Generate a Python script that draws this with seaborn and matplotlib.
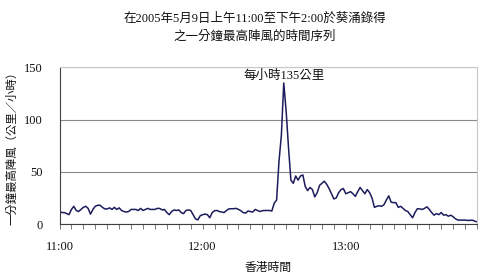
import matplotlib
matplotlib.use("Agg")
import matplotlib.pyplot as plt
import seaborn as sns
import pandas as pd
import numpy as np
from matplotlib.ticker import FixedLocator, MultipleLocator

# ---- data (one-minute peak gust, km/h, from 11:00) ----
minutes = list(range(0, 176))
gust = [
    12, 11, 11, 10, 9, 14, 17, 13, 12, 14,
    16, 17, 15, 9.5, 14, 17, 18, 18, 16, 14.5,
    14.5, 15.5, 14, 16, 14, 15.5, 13, 12, 11.5, 12,
    14, 14, 14, 13, 15, 13, 14, 15, 14, 14,
    14, 15, 15, 13.5, 14, 11, 9, 12, 13.5, 13,
    13.5, 11, 10, 13, 13.5, 13, 9, 5, 4, 8,
    9, 9.5, 9, 6, 11, 12.8, 13, 12, 11.5, 11,
    13, 14.5, 14.7, 14.7, 15, 14, 12.8, 11, 10.5, 12.5,
    12, 11.5, 14, 13, 12, 12.8, 13, 13, 13, 12.5,
    20, 23, 60, 85, 135, 108, 73, 42, 39, 46,
    42, 46, 47, 36, 32, 35, 33, 26, 30, 37,
    39, 41, 38, 34, 29, 24, 25, 30, 33, 34,
    29, 30, 31, 29, 26.5, 31, 35, 32, 29, 33,
    30, 25, 16, 17, 17.5, 17, 18.5, 23, 27, 21,
    20.5, 20.5, 16, 17, 15, 13, 12, 9, 6, 11,
    14.7, 14.5, 14, 15, 16.5, 14, 11, 8.5, 10, 9,
    11, 8.5, 9, 7.5, 8.5, 7, 5, 3.8, 3.8, 3.8,
    3.8, 3.5, 3.5, 3.8, 2.8, 2.2,
]
tick_minutes = [0, 60, 120]
tick_labels = ["11:00", "12:00", "13:00"]
y_ticks = [0, 50, 100, 150]
peak_label = "每小時135公里"
title_text = "在2005年5月9日上午11:00至下午2:00於葵涌錄得\n之一分鐘最高陣風的時間序列"
ylabel_text = "一分鐘最高陣風（公里／小時）"
xlabel_text = "香港時間"

df = pd.DataFrame({"minute": minutes, "gust": gust})

sns.set_theme(style="white")
fams = ["Liberation Serif", "Noto Sans CJK TC", "DejaVu Sans"]
plt.rcParams["font.family"] = fams

fig = plt.figure(figsize=(5.0, 2.78), dpi=100)
ax = fig.add_axes([0.119, 0.194, 0.835, 0.564])

sns.lineplot(data=df, x="minute", y="gust", ax=ax, color="#1c1c5c", linewidth=1.1)

ax.set_xlim(0, 175)
ax.set_ylim(0, 150)
ax.yaxis.set_major_locator(FixedLocator(y_ticks))
ax.xaxis.set_major_locator(FixedLocator(tick_minutes))
ax.set_xticklabels(tick_labels)
ax.xaxis.set_minor_locator(MultipleLocator(5))

ax.grid(axis="y", color="#8a8a8a", linewidth=0.8)
ax.grid(axis="x", visible=False)
for s in ["top", "right"]:
    ax.spines[s].set_color("#c8c8c8")
    ax.spines[s].set_linewidth(0.8)
ax.spines["left"].set_color("#404040")
ax.spines["bottom"].set_color("#404040")
ax.spines["left"].set_linewidth(0.8)
ax.spines["bottom"].set_linewidth(0.8)

ax.tick_params(axis="y", length=0, pad=12, labelsize=9, colors="#111111")
ax.tick_params(axis="x", which="major", direction="out", length=3.5, width=0.6,
               color="#606060", pad=9, labelsize=9, labelcolor="#111111", bottom=True)
ax.tick_params(axis="x", which="minor", direction="out", length=3.5, width=0.6,
               color="#606060", bottom=True)

ax.set_xlabel(xlabel_text, fontsize=8.5, labelpad=6, color="#111111")
ax.set_ylabel(ylabel_text, fontsize=8.2, labelpad=5, color="#111111")

peak_i = int(np.argmax(gust))
ax.annotate(peak_label, xy=(minutes[peak_i], gust[peak_i]), xytext=(0, 1),
            textcoords="offset points", ha="center", va="bottom",
            fontsize=9, color="#111111", annotation_clip=False)

fig.text(0.51, 0.90, title_text, ha="center", va="center", fontsize=9,
         linespacing=1.6, color="#111111")

fig.savefig("out.png", dpi=100, facecolor="white")
